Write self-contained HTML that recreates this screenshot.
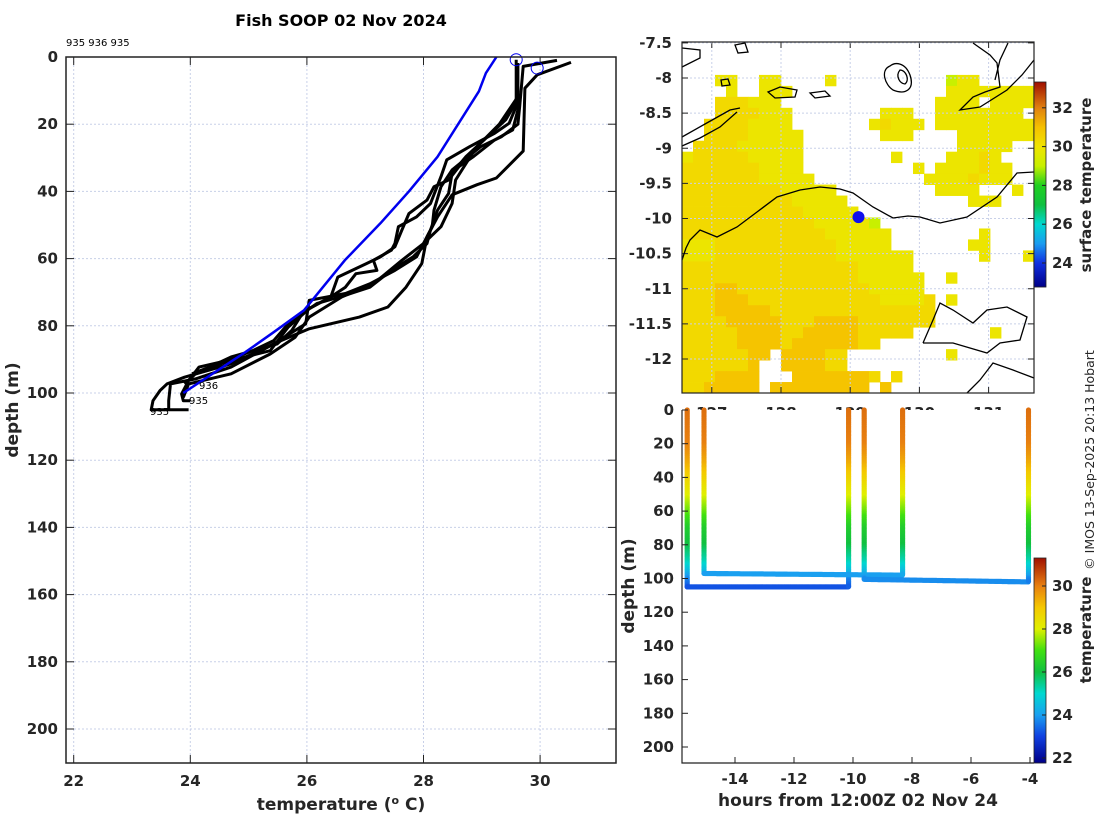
<!DOCTYPE html>
<html><head><meta charset="utf-8"><style>
html,body{margin:0;padding:0;background:#fff;}
svg{display:block;font-family:"DejaVu Sans","Liberation Sans",sans-serif;}
.tk{font-size:15px;font-weight:bold;fill:#262626;}
.lb{font-size:17px;font-weight:bold;fill:#262626;}
</style></head><body>
<svg id="fig" width="1100" height="820" viewBox="0 0 1100 820" xmlns="http://www.w3.org/2000/svg">
<text x="341" y="26" text-anchor="middle" style="font-size:16px;font-weight:bold">Fish SOOP 02 Nov 2024</text>
<text x="66" y="46" style="font-size:10px">935 936 935</text>
<g id="left"></g>
<g id="map"></g>
<g id="bot"></g>
<text transform="translate(1094,460) rotate(-90)" text-anchor="middle" style="font-size:12.5px;fill:#262626">© IMOS 13-Sep-2025 20:13 Hobart</text>
</svg>
<script>
// ---------- data ----------
const xTicksL=[22,24,26,28,30];
const yTicksL=[0,20,40,60,80,100,120,140,160,180,200];
const blueT=[29.25,29.07,28.95,28.24,27.75,27.26,26.65,25.95,25.43,24.94,23.88];
const blueD=[0,4.8,10.2,29.7,40,49.5,60.5,75.4,81.9,87.9,100];
const p1T=[30.53,29.95,29.74,29.71,29.25,28.92,28.49,28.24,28.06,27.97,27.7,27.39,26.9,26.04,25.49,24.7,23.9,23.6,23.48,23.36,23.33,23.97];
const p1D=[1.6,5.3,9.3,28,36,38,41,47.6,53.5,61.5,68.5,74.4,77.4,80.9,84.9,91.3,95.3,97.3,99.3,102.3,105,105];
const p2T=[30.29,29.71,29.65,29.62,29.34,28.98,28.49,28.3,28.18,28.15,28.0,27.88,27.51,27.08,26.66,26.04,25.98,25.43,24.7,24.09,23.66,23.63,23.63];
const p2D=[1,2.8,14.7,20,23.7,26.7,33.6,38.6,45.6,50.5,55.5,59.5,63.5,67.5,70.4,72.4,79.4,85.4,92.3,95.8,97.3,102.3,105];
const p3T=[29.59,29.59,29.47,29.22,28.79,28.4,28.3,28.12,27.88,27.57,27.51,27.45,27.14,27.2,26.84,26.66,26.41,25.98,25.68,25.43,25.07,24.64,24.15,23.97,23.85,23.88,24.0];
const p3D=[0.8,14.7,19.7,22.7,26.7,30.6,35.6,43.6,47.6,50.5,55.5,57.5,60.5,63.5,64.5,68.5,71.4,75.4,79.4,84.4,87.4,90.3,92.3,96.3,100.3,102.3,102.3];
const p4T=[29.62,29.62,29.53,29.22,28.86,28.61,28.43,28.18,28.06,27.75,27.63,27.51,27.26,27.02,26.53,26.41,26.04,25.68,25.37,24.82,24.52,24.09,23.9];
const p4D=[1.8,15.7,21.7,24.7,29.6,32.6,36.6,38.6,42.6,46.6,51.5,56.5,59.5,61.5,65.5,71.4,74.9,80.4,87.4,89.8,91.3,94.3,97.3];
const p5T=[29.65,29.41,29.1,28.73,28.49,28.43,28.24,28.12,28.06,27.82,27.45,27.08,26.66,26.17,25.92,25.74,25.49,24.7,24.33,24.03];
const p5D=[11.7,18.7,23.7,29.6,34.6,40.6,45.6,51.5,55.5,59.5,63.5,68.5,70.9,73.4,76.4,81.4,85.4,89.3,92.3,94.3];
const p6T=[29.65,29.3,28.9,28.55,28.49,28.3,28.0,27.63,27.14,26.6,26.04,25.8,25.37,24.7,23.97,23.88];
const p6D=[11,20,27,36.6,43.6,50.5,55.5,60.5,67.5,71.4,77.4,83.4,88.4,94.3,97.3,101.3];
const latTicks=[-7.5,-8,-8.5,-9,-9.5,-10,-10.5,-11,-11.5,-12];
const lonTicks=[127,128,129,130,131];
const mapCbTicks=[24,26,28,30,32];
const sstCodes={'3':29.0,'5':29.9,'6':30.3,'7':30.9};
const sstRows=[
"................................",
"................................",
"................................",
"...55..55....5..........355.....",
"....5..555..............55555555",
"...666555..............5555.5555",
"...6666555........555..55555555.",
"..66665555.......56555.555555555",
"..666655555.......555....5555555",
".6666555555..............55555..",
"56666655555........5....55565...",
"66666665555..........5.5555655..",
"666666655555..........55556555..",
"66666666655555.........5555...5.",
"666666666655555...........555...",
"6666666666655555................",
"666666666666555553..............",
"6666666666666555555........5....",
"5556666666666655555.......55....",
"555666666666665555555......5...5",
"666666666666666655555...........",
"6666666666666666555555..5.......",
"6667766666666666655555..........",
"66677766666666666655556.5.......",
"66677777666666666666666.........",
"66667777766677776666666.........",
"666667777667777766666.......5...",
"666667777677777766..............",
"66666677.777766.........5.......",
"6666667..777766.................",
"6667777...77777776.6............",
"6677777.777777777.7............."];
const shipLon=[129.12];
const shipLat=[-9.98];
const hTicks=[-14,-12,-10,-8,-6,-4];
const dTicksB=[0,20,40,60,80,100,120,140,160,180,200];
const castDownTime=[-15.62,-15.05,-9.62];
const castUpTime=[-10.15,-8.32,-4.05];
const castBottomStart=[105,97,100.5];
const castBottomEnd=[105,98,102];
const castBottomTemp=[23.2,24.0,23.8];
const profDepth=[0,20,30,40,50,60,70,80,90,95,100,105];
const profTemp=[30.2,30.0,29.5,28.8,28.1,27.3,26.4,26.0,25.2,24.6,23.8,23.3];
const botCbTicks=[22,24,26,28,30];

// ---------- helpers ----------
const NS="http://www.w3.org/2000/svg";
function mk(parent,tag,attrs,txt){const e=document.createElementNS(NS,tag);for(const k in attrs)e.setAttribute(k,attrs[k]);if(txt!==undefined)e.textContent=txt;parent.appendChild(e);return e;}
function hex(c){return [parseInt(c.substr(1,2),16),parseInt(c.substr(3,2),16),parseInt(c.substr(5,2),16)];}
function cmap(stops,v){if(v<=stops[0][0])return stops[0][1];for(let i=1;i<stops.length;i++){if(v<=stops[i][0]){const a=stops[i-1],b=stops[i];const f=(v-a[0])/(b[0]-a[0]);const A=hex(a[1]),B=hex(b[1]);return 'rgb('+A.map((x,j)=>Math.round(x+(B[j]-x)*f)).join(',')+')';}}return stops[stops.length-1][1];}
const mapStops=[[22.8,'#00008a'],[24,'#1030e0'],[25,'#1a9cf0'],[26,'#00d8d0'],[27,'#10c040'],[28,'#20d020'],[29,'#c8f000'],[30,'#f0e400'],[31,'#f5c000'],[32,'#e08010'],[33.3,'#a01000']];
const botStops=[[21.8,'#00008a'],[23,'#1040e0'],[24,'#1aa0f0'],[25,'#00d8d0'],[26,'#10c040'],[27,'#40e010'],[28,'#e0f000'],[29,'#f5c800'],[30,'#e88010'],[31.3,'#a01000']];
const grid='#c8d0e8';

// ---------- left plot ----------
const L=document.getElementById('left');
const xT=t=>73.7+(t-22)*58.3, yD=d=>57+d*3.36;
mk(L,'rect',{x:66,y:57,width:550,height:706,fill:'#fff',});
xTicksL.forEach(t=>{const g=mk(L,'g',{});
 mk(g,'line',{x1:xT(t),x2:xT(t),y1:57,y2:763,stroke:grid,'stroke-dasharray':'2,2'});
 mk(g,'line',{x1:xT(t),x2:xT(t),y1:763,y2:755,stroke:'#222'});mk(g,'line',{x1:xT(t),x2:xT(t),y1:57,y2:65,stroke:'#222'});
 mk(g,'text',{x:xT(t),y:786,'text-anchor':'middle',class:'tk'},t);});
yTicksL.forEach(d=>{const g=mk(L,'g',{});
 mk(g,'line',{x1:66,x2:616,y1:yD(d),y2:yD(d),stroke:grid,'stroke-dasharray':'2,2'});
 mk(g,'line',{x1:66,x2:74,y1:yD(d),y2:yD(d),stroke:'#222'});mk(g,'line',{x1:608,x2:616,y1:yD(d),y2:yD(d),stroke:'#222'});
 mk(g,'text',{x:58,y:yD(d)+5,'text-anchor':'end',class:'tk'},d);});
function prof(T,D,col,w,name){const pts=T.map((t,i)=>xT(t).toFixed(1)+','+yD(D[i]).toFixed(1)).join(' ');const e=mk(L,'polyline',{points:pts,fill:'none',stroke:col,'stroke-width':w,'stroke-linejoin':'round'});}
prof(p1T,p1D,'#000',3,'profile-1');prof(p2T,p2D,'#000',3,'profile-2');prof(p3T,p3D,'#000',3,'profile-3');
prof(p4T,p4D,'#000',3,'profile-4');prof(p5T,p5D,'#000',3,'profile-5');prof(p6T,p6D,'#000',3,'profile-6');
prof(blueT,blueD,'#0000ee',2.5,'climatology-profile');
[[p3T[0],p3D[0]],[p1T[1],p1D[1]-2]].forEach((p,i)=>{const c=mk(L,'circle',{cx:xT(p[0]),cy:yD(p[1]),r:6,fill:'none',stroke:'#0000ee','stroke-width':1});});
mk(L,'text',{x:199,y:389,style:'font-size:10px'},'936');
mk(L,'text',{x:189,y:404,style:'font-size:10px'},'935');
mk(L,'text',{x:150,y:415,style:'font-size:10px'},'935');
mk(L,'rect',{x:66,y:57,width:550,height:706,fill:'none',stroke:'#222','stroke-width':1.5,});
mk(L,'text',{x:341,y:810,'text-anchor':'middle',class:'lb',},'temperature (');
(function(){const t=L.lastChild;t.textContent='';mk(t,'tspan',{},'temperature (');mk(t,'tspan',{dy:-6,style:'font-size:11px'},'o');mk(t,'tspan',{dy:6},' C)');})();
mk(L,'text',{transform:'translate(18,410) rotate(-90)','text-anchor':'middle',class:'lb',},'depth (m)');

// ---------- map ----------
const M=document.getElementById('map');
const lx=x=>781+(x-128)*69.2, ly=y=>78+(-8-y)*70.25;
const MX0=682,MY0=42,MW=352,MH=351;
mk(M,'rect',{x:MX0,y:MY0,width:MW,height:MH,fill:'#fff'});
const cw=MW/32,ch=MH/32;
sstRows.forEach((row,r)=>{for(let c=0;c<row.length;c++){const v=sstCodes[row[c]];if(v===undefined)continue;
 const e=mk(M,'rect',{x:(MX0+c*cw).toFixed(2),y:(MY0+r*ch).toFixed(2),width:(cw+0.4).toFixed(2),height:(ch+0.4).toFixed(2),fill:cmap(mapStops,v)});
 }});
lonTicks.forEach(t=>{mk(M,'line',{x1:lx(t),x2:lx(t),y1:MY0,y2:MY0+MH,stroke:grid,'stroke-dasharray':'2,2'});
 mk(M,'line',{x1:lx(t),x2:lx(t),y1:MY0,y2:MY0+6,stroke:'#222'});mk(M,'line',{x1:lx(t),x2:lx(t),y1:MY0+MH,y2:MY0+MH-6,stroke:'#222'});
 const e=mk(M,'text',{x:lx(t),y:418,'text-anchor':'middle',class:'tk'},t);});
latTicks.forEach(t=>{mk(M,'line',{x1:MX0,x2:MX0+MW,y1:ly(t),y2:ly(t),stroke:grid,'stroke-dasharray':'2,2'});
 mk(M,'line',{x1:MX0,x2:MX0+6,y1:ly(t),y2:ly(t),stroke:'#222'});mk(M,'line',{x1:MX0+MW-6,x2:MX0+MW,y1:ly(t),y2:ly(t),stroke:'#222'});
 const e=mk(M,'text',{x:672,y:ly(t)+5,'text-anchor':'end',class:'tk'},t);});
const coast=[
"M682,260 L686,248 L690,240 L700,230 L717,237 L737,227 L757,212 L777,197 L800,190 L820,187 L840,189 L853,193 L873,207 L893,218 L908,216 L920,217 L940,223 L967,217 L997,197 L1017,173 L1034,172",
"M682,137 L705,124 L730,110 L740,108",
"M682,146 L700,138 L720,127 L737,112",
"M682,67 L700,58 L700,50 L682,48",
"M973,43 L990,55 L997,63 L1000,87 L985,92 L973,97 L960,110 L980,107 L1007,90 L1022,75 L1034,60",
"M1008,43 L1000,60 L995,80",
"M923,343 L933,320 L940,303 L953,310 L973,323 L987,310 L1007,307 L1027,317 L1020,340 L1000,343 L987,353 L953,343 L923,343",
"M967,393 L980,380 L993,363 L1013,370 L1034,378",
"M768,92 L780,87 L797,90 L795,97 L775,98 Z",
"M721,80 L728,79 L730,85 L722,86 Z",
"M890,66 C880,70 885,85 893,90 C905,95 915,90 910,75 C905,62 895,62 890,66 Z",
"M900,70 C895,76 900,84 905,84 C910,80 906,70 900,70 Z",
"M735,45 L745,43 L748,52 L738,53 Z",
"M810,93 L825,91 L830,96 L815,98 Z"];
coast.forEach((d,i)=>{const e=mk(M,'path',{d:d,fill:'none',stroke:'#000','stroke-width':1.3});});
shipLon.forEach((lo,i)=>{const e=mk(M,'circle',{cx:lx(lo),cy:ly(shipLat[i]),r:6,fill:'#1010ee'});});
mk(M,'rect',{x:MX0,y:MY0,width:MW,height:MH,fill:'none',stroke:'#222','stroke-width':1.2});
// map colorbar
const cbY=v=>263-(v-24)*19.4;
for(let y=82;y<287;y++){const v=24+(263-y-0.5)/19.4;mk(M,'rect',{x:1034,y:y,width:12,height:1.2,fill:cmap(mapStops,v)});}
mk(M,'rect',{x:1034,y:82,width:12,height:205,fill:'none',stroke:'#222','stroke-width':0.8,});
mapCbTicks.forEach(t=>{mk(M,'line',{x1:1042,x2:1046,y1:cbY(t),y2:cbY(t),stroke:'#222'});mk(M,'text',{x:1052,y:cbY(t)+5,class:'tk'},t);});
mk(M,'text',{transform:'translate(1091,185) rotate(-90)','text-anchor':'middle',class:'tk',},'surface temperature');

// ---------- bottom right ----------
const B=document.getElementById('bot');
const xH=h=>853+(h+10)*29.5, yB=d=>410+d*1.685;
mk(B,'rect',{x:682,y:410,width:352,height:353,fill:'#fff'});
const tempAt=d=>{for(let i=1;i<profDepth.length;i++){if(d<=profDepth[i]){const f=(d-profDepth[i-1])/(profDepth[i]-profDepth[i-1]);return profTemp[i-1]+f*(profTemp[i]-profTemp[i-1]);}}return profTemp[profTemp.length-1];};
castDownTime.forEach((t0,k)=>{const g=mk(B,'g',{});
 const dot=(h,d,temp)=>mk(g,'circle',{cx:xH(h).toFixed(1),cy:yB(d).toFixed(1),r:2.6,fill:cmap(botStops,temp)});
 const t1=castUpTime[k],b0=castBottomStart[k],b1=castBottomEnd[k];
 for(let d=0;d<=b0;d+=0.8)dot(t0,d,tempAt(d));
 for(let h=t0;h<=t1;h+=0.04){const f=(h-t0)/(t1-t0);dot(h,b0+(b1-b0)*f,castBottomTemp[k]);}
 for(let d=0;d<=b1;d+=0.8)dot(t1,d,tempAt(d));});
hTicks.forEach(t=>{mk(B,'line',{x1:xH(t),x2:xH(t),y1:763,y2:757,stroke:'#222'});
 const e=mk(B,'text',{x:xH(t),y:784,'text-anchor':'middle',class:'tk'},t);});
dTicksB.forEach(d=>{mk(B,'line',{x1:682,x2:688,y1:yB(d),y2:yB(d),stroke:'#222'});
 const e=mk(B,'text',{x:674,y:yB(d)+5,'text-anchor':'end',class:'tk'},d);});
mk(B,'polyline',{points:'682,410 682,763 1034,763',fill:'none',stroke:'#222','stroke-width':1.2});
const cb2=v=>715-(v-24)*21.5;
for(let y=558;y<763;y++){const v=24+(715-y-0.5)/21.5;mk(B,'rect',{x:1034,y:y,width:12,height:1.2,fill:cmap(botStops,v)});}
mk(B,'rect',{x:1034,y:558,width:12,height:205,fill:'none',stroke:'#222','stroke-width':0.8,});
botCbTicks.forEach(t=>{mk(B,'line',{x1:1042,x2:1046,y1:cb2(t),y2:cb2(t),stroke:'#222'});mk(B,'text',{x:1052,y:cb2(t)+5,class:'tk'},t);});
mk(B,'text',{transform:'translate(1091,630) rotate(-90)','text-anchor':'middle',class:'tk',},'temperature');
mk(B,'text',{x:858,y:806,'text-anchor':'middle',class:'lb',},'hours from 12:00Z 02 Nov 24');
mk(B,'text',{transform:'translate(634,586) rotate(-90)','text-anchor':'middle',class:'lb',},'depth (m)');
</script>
</body></html>
